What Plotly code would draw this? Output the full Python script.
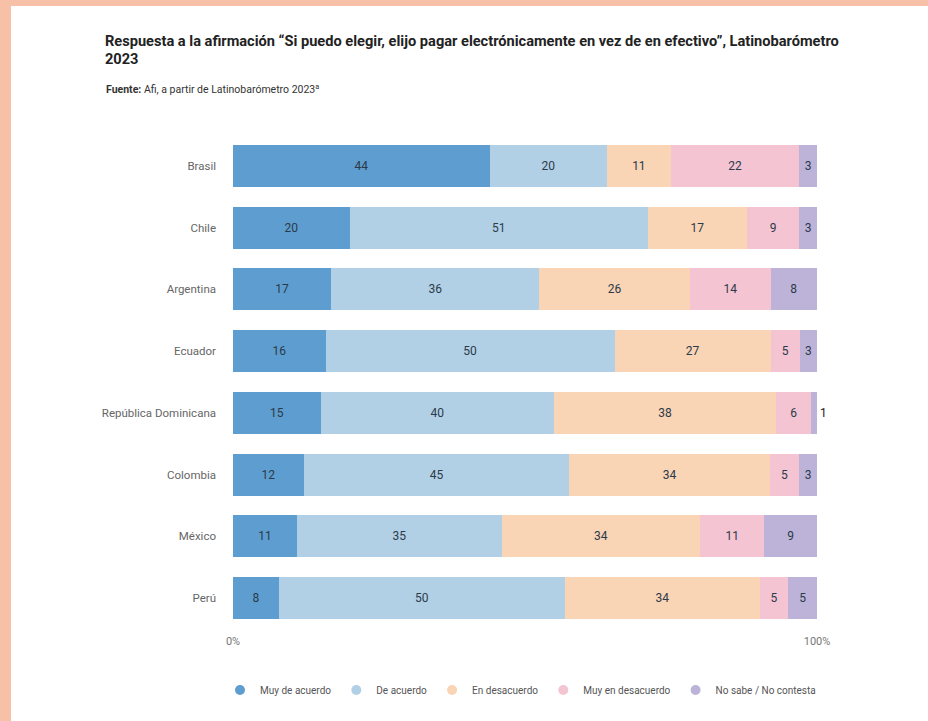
import plotly.graph_objects as go

# Latinobarómetro 2023 responses, by country (percent)
countries = ["Brasil", "Chile", "Argentina", "Ecuador", "República Dominicana",
             "Colombia", "México", "Perú"]
muy_de_acuerdo = [44, 20, 17, 16, 15, 12, 11, 8]
de_acuerdo = [20, 51, 36, 50, 40, 45, 35, 50]
en_desacuerdo = [11, 17, 26, 27, 38, 34, 34, 34]
muy_en_desacuerdo = [22, 9, 14, 5, 6, 5, 11, 5]
no_sabe = [3, 3, 8, 3, 1, 3, 9, 5]

series_names = ["Muy de acuerdo", "De acuerdo", "En desacuerdo",
                "Muy en desacuerdo", "No sabe / No contesta"]
series_values = [muy_de_acuerdo, de_acuerdo, en_desacuerdo, muy_en_desacuerdo, no_sabe]
colors = ["#5e9dcf", "#b2d0e5", "#f9d4b5", "#f4c4d3", "#bdb3d9"]
x_tick_labels = ["0%", "100%"]

W, H = 928, 721
L, R, T, B = 233, 111, 135, 92
pw, ph = W - L - R, H - T - B


def px_x(x):
    return (x - L) / pw


def px_y(y):
    return (H - B - y) / ph


fig = go.Figure()
for name, vals, col in zip(series_names, series_values, colors):
    # segments too thin to hold their label get it just past the bar end
    positions = ["inside" if v >= 2 else "outside" for v in vals]
    fig.add_trace(go.Bar(
        y=countries, x=vals, orientation="h", name=name,
        marker=dict(color=col, line=dict(width=0)),
        text=vals, texttemplate="%{text}", textposition=positions,
        insidetextanchor="middle", cliponaxis=False,
        textfont=dict(color="#2b3a4a", size=12, family="Roboto"),
        outsidetextfont=dict(color="#222", size=12, family="Roboto"),
        constraintext="none",
        showlegend=False, hoverinfo="skip",
    ))
    # circular legend markers
    fig.add_trace(go.Scatter(
        x=[None], y=[None], mode="markers", name=name,
        marker=dict(symbol="circle", size=10, color=col),
        showlegend=True,
    ))

fig.update_layout(
    width=W, height=H,
    margin=dict(l=L, r=R, t=T, b=B),
    paper_bgcolor="#f6c1a7",
    plot_bgcolor="rgba(0,0,0,0)",
    barmode="stack", barnorm="percent", bargap=0.32,
    font=dict(family="Roboto", color="#666"),
    xaxis=dict(range=[0, 100], tickvals=[0, 100], ticktext=x_tick_labels,
               showgrid=False, zeroline=False, showline=False,
               tickfont=dict(size=11, color="#777"), ticks="", ticklabelstandoff=4),
    yaxis=dict(autorange="reversed", showgrid=False, zeroline=False, showline=False,
               ticks="", tickfont=dict(size=11.5, color="#666"), ticklabelstandoff=16),
    legend=dict(orientation="h", traceorder="normal",
                x=px_x(220), xanchor="left", y=px_y(690), yanchor="middle",
                font=dict(size=10, color="#555"), itemwidth=30, tracegroupgap=0,
                bgcolor="rgba(0,0,0,0)"),
    shapes=[dict(type="rect", xref="paper", yref="paper", layer="below",
                 x0=px_x(11), x1=px_x(W + 5), y0=px_y(6), y1=px_y(H + 5),
                 fillcolor="white", line=dict(width=0))],
    annotations=[
        dict(xref="paper", yref="paper", x=px_x(103), y=px_y(41), xanchor="left", yanchor="middle",
             align="left", showarrow=False,
             text="<b>Respuesta a la afirmación “Si puedo elegir, elijo pagar electrónicamente en vez de en efectivo”, Latinobarómetro</b>",
             font=dict(size=14.6, color="#222", family="Roboto")),
        dict(xref="paper", yref="paper", x=px_x(103), y=px_y(59), xanchor="left", yanchor="middle",
             align="left", showarrow=False,
             text="<b>2023</b>",
             font=dict(size=14.6, color="#222", family="Roboto")),
        dict(xref="paper", yref="paper", x=px_x(104), y=px_y(89), xanchor="left", yanchor="middle",
             align="left", showarrow=False,
             text="<b>Fuente:</b> Afi, a partir de Latinobarómetro 2023<sup>a</sup>",
             font=dict(size=10.5, color="#333", family="Roboto")),
    ],
)

fig.write_html("out.html")
